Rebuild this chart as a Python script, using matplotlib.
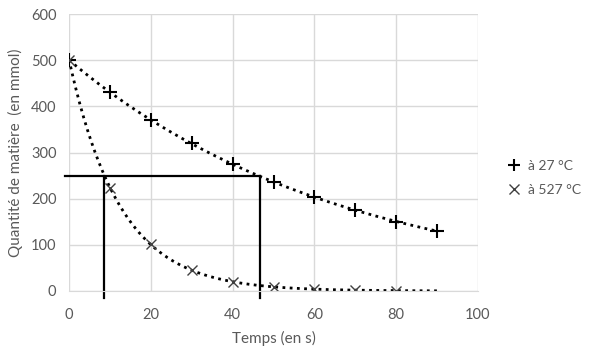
import numpy as np
import matplotlib
matplotlib.use("Agg")
import matplotlib.pyplot as plt
from matplotlib.lines import Line2D

plt.rcParams['font.family'] = ['Lato', 'DejaVu Sans']

temps = [0, 10, 20, 30, 40, 50, 60, 70, 80, 90]
n_27 = [500, 430, 370, 320, 275, 237, 203, 175, 150, 130]
temps_527 = [0, 10, 20, 30, 40, 50, 60, 70, 80]
n_527 = [500, 223, 102, 45, 20, 9, 4, 2, 1]

half = 250
t_half_527 = 8.6
t_half_27 = 46.7

gray = '#595959'
grid = '#d9d9d9'

fig = plt.figure(figsize=(6, 3.55), dpi=100)
ax = fig.add_axes([69 / 600, 1 - 291 / 355, 409 / 600, 277 / 355])

# exponential trend lines (fit on log values, like the spreadsheet trendline)
tt = np.linspace(0, 90, 300)
k27, a27 = np.polyfit(temps, np.log(n_27), 1)
ax.plot(tt, np.exp(a27) * np.exp(k27 * tt), color='black', ls=(0, (1, 1.6)), lw=2)
k527, a527 = np.polyfit(temps_527[:5], np.log(n_527[:5]), 1)
ax.plot(tt, np.exp(a527) * np.exp(k527 * tt), color='black', ls=(0, (1, 1.6)), lw=2)

ax.plot(temps, n_27, ls='none', marker='+', ms=10, mew=1.5, color='black')
ax.plot(temps_527, n_527, ls='none', marker='x', ms=7, mew=1.0, color='#404040')

# half-life construction lines
ax.plot([-1, t_half_27], [half, half], color='black', lw=1.6, clip_on=False)
ax.plot([t_half_527, t_half_527], [half, -15], color='black', lw=1.6, clip_on=False)
ax.plot([t_half_27, t_half_27], [half, -15], color='black', lw=1.6, clip_on=False)

ax.set_xlim(0, 100)
ax.set_ylim(0, 600)
ax.set_xticks(range(0, 101, 20))
ax.set_yticks(range(0, 601, 100))
ax.grid(True, color=grid, lw=1)
ax.set_axisbelow(True)
for s in ['top', 'right', 'left']:
    ax.spines[s].set_visible(False)
ax.spines['bottom'].set_color(grid)
ax.tick_params(length=0, colors=gray, labelsize=10.5, pad=12)
ax.tick_params(axis='y', pad=9)

ax.set_xlabel('Temps (en s)', color=gray, fontsize=11, labelpad=7)
ax.set_ylabel('Quantité de matière  (en mmol)', color=gray, fontsize=11, labelpad=6)

handles = [Line2D([], [], ls='none', marker='+', ms=9, mew=1.5, color='black'),
           Line2D([], [], ls='none', marker='x', ms=7, mew=1.0, color='#404040')]
fig.legend(handles, ['à 27 °C', 'à 527 °C'], loc='center left',
           bbox_to_anchor=(490 / 600, 1 - 178 / 355), frameon=False,
           fontsize=10, labelcolor=gray, handletextpad=0.2, handlelength=1.6,
           labelspacing=0.9)

fig.savefig('out.png', dpi=100)
